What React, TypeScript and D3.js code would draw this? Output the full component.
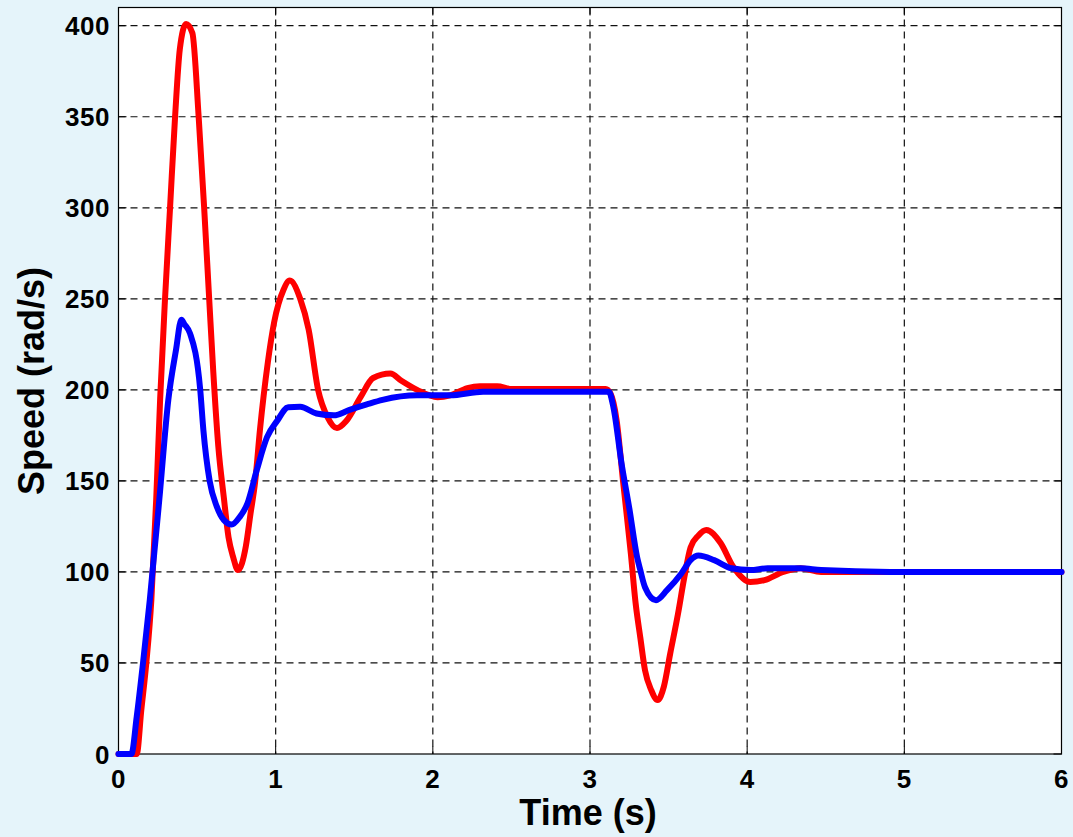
import React from "react";
import * as d3 from "d3";

const redT = [0, 0.116, 0.145, 0.177, 0.209, 0.24, 0.265, 0.296, 0.328, 0.36, 0.39, 0.43, 0.47, 0.51, 0.545, 0.577, 0.603, 0.635, 0.67, 0.7, 0.73, 0.76, 0.81, 0.84, 0.87, 0.9, 0.95, 0.99, 1.05, 1.09, 1.156, 1.21, 1.27, 1.33, 1.39, 1.45, 1.54, 1.62, 1.73, 1.8, 1.9, 2.03, 2.11, 2.22, 2.3, 2.41, 2.5, 3.1, 3.13, 3.17, 3.21, 3.26, 3.29, 3.32, 3.35, 3.39, 3.43, 3.47, 3.51, 3.56, 3.6, 3.64, 3.69, 3.74, 3.83, 3.91, 4.02, 4.11, 4.23, 4.34, 4.47, 6];
const redV = [0, 0, 24, 50, 84.5, 140, 195, 250, 300, 350, 387, 401, 396, 350, 300, 250, 210, 169, 141, 119, 108, 101, 114, 132, 150, 178, 215, 237, 255, 260, 250, 233, 200, 185, 179, 183, 196, 206.5, 209, 205, 200, 196, 197, 201, 202, 202, 200.5, 200.5, 198, 183, 150, 110, 83, 64, 46, 35, 29.6, 37, 55, 77, 97, 113.5, 120, 123, 116, 103, 94.5, 95.5, 100, 102, 100, 100];

const blueT = [0, 0.082, 0.116, 0.156, 0.199, 0.26, 0.317, 0.366, 0.4, 0.42, 0.455, 0.52, 0.54, 0.58, 0.625, 0.67, 0.72, 0.77, 0.82, 0.88, 0.945, 1.01, 1.08, 1.156, 1.26, 1.37, 1.47, 1.58, 1.68, 1.9, 2.11, 2.32, 3.1, 3.12, 3.15, 3.2, 3.25, 3.3, 3.32, 3.35, 3.42, 3.49, 3.58, 3.64, 3.69, 3.79, 3.9, 4.02, 4.13, 4.34, 4.47, 4.91, 6];
const blueV = [0, 0, 20.5, 50, 84.5, 140, 194.5, 222, 238.5, 236, 231, 200, 178, 150, 136, 128.5, 126, 130, 137.5, 156, 174, 183, 190.5, 190.7, 187, 186, 189, 192, 194.5, 197, 197, 199, 199, 199, 190, 160, 135, 108, 101, 91.6, 84.5, 90, 99, 106.5, 109, 106.5, 102, 101, 102, 102, 101, 100, 100];

const xTicks = [0, 1, 2, 3, 4, 5, 6];
const yTicks = [0, 50, 100, 150, 200, 250, 300, 350, 400];

const W = 1073;
const H = 837;
const L = 118.5, R = 1061.5, T = 7.5, B = 754;

export default function App() {
  const x = d3.scaleLinear().domain([0, 6]).range([L, R]);
  const y = d3.scaleLinear().domain([0, 410]).range([B, T]);
  const line = d3
    .line<[number, number]>()
    .x((d) => x(d[0]))
    .y((d) => y(d[1]))
    .curve(d3.curveMonotoneX);
  const red = redT.map((t, i) => [t, redV[i]] as [number, number]);
  const blue = blueT.map((t, i) => [t, blueV[i]] as [number, number]);
  const font = "'Liberation Sans', Arial, Helvetica, sans-serif";
  return (
    <svg
      width={W}
      height={H}
      style={{ position: "absolute", left: 0, top: 0, display: "block" }}
      fontFamily={font}
    >
      <rect x={0} y={0} width={W} height={H} fill="#E5F4FA" />
      <rect x={L} y={T} width={R - L} height={B - T} fill="#ffffff" />
      {xTicks.slice(1, -1).map((t) => (
        <line key={"gx" + t} x1={x(t)} x2={x(t)} y1={T} y2={B} stroke="#111" strokeWidth={1.2} strokeDasharray="7,5" />
      ))}
      {yTicks.slice(1).map((v) => (
        <line key={"gy" + v} x1={L} x2={R} y1={y(v)} y2={y(v)} stroke="#111" strokeWidth={1.2} strokeDasharray="7,5" />
      ))}
      {xTicks.map((t) => (
        <g key={"tx" + t}>
          <line x1={x(t)} x2={x(t)} y1={B} y2={B - 8} stroke="#000" strokeWidth={1} />
          <line x1={x(t)} x2={x(t)} y1={T} y2={T + 8} stroke="#000" strokeWidth={1} />
          <text x={x(t)} y={788} textAnchor="middle" fontSize={26} fontWeight="bold" letterSpacing={0.5}>
            {t}
          </text>
        </g>
      ))}
      {yTicks.map((v) => (
        <g key={"ty" + v}>
          <line x1={L} x2={L + 8} y1={y(v)} y2={y(v)} stroke="#000" strokeWidth={1} />
          <line x1={R} x2={R - 8} y1={y(v)} y2={y(v)} stroke="#000" strokeWidth={1} />
          <text x={110} y={y(v) + 9.5} textAnchor="end" fontSize={26} fontWeight="bold" letterSpacing={0.5}>
            {v}
          </text>
        </g>
      ))}
      <rect x={L} y={T} width={R - L} height={B - T} fill="none" stroke="#000" strokeWidth={1.2} />
      <path d={line(red) || ""} fill="none" stroke="#FF0000" strokeWidth={6} strokeLinejoin="round" strokeLinecap="round" />
      <path d={line(blue) || ""} fill="none" stroke="#0000FF" strokeWidth={6} strokeLinejoin="round" strokeLinecap="round" />
      <text x={(L + R) / 2 - 2} y={825} textAnchor="middle" fontSize={36} fontWeight="bold">
        Time (s)
      </text>
      <text
        transform={`translate(44, 381) rotate(-90)`}
        textAnchor="middle"
        fontSize={36}
        fontWeight="bold"
      >
        Speed (rad/s)
      </text>
    </svg>
  );
}
